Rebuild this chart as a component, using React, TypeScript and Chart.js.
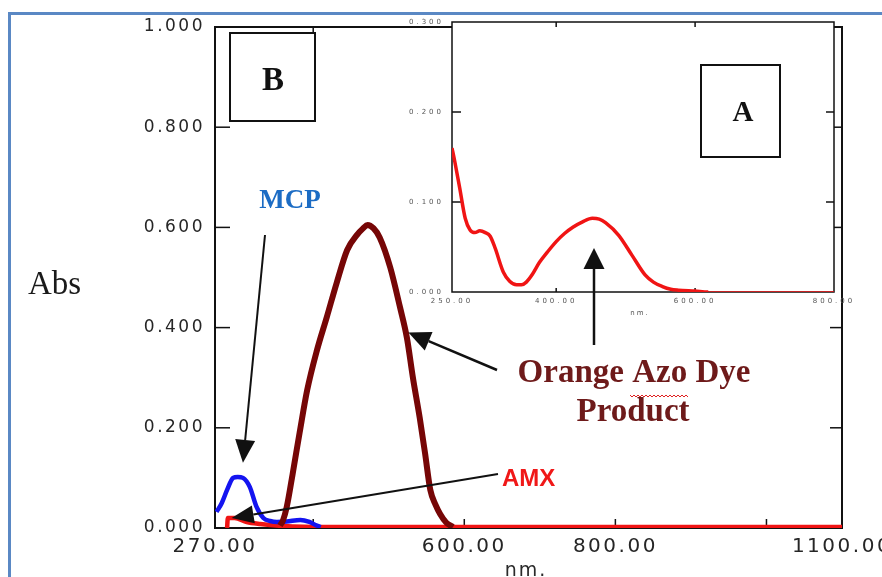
import React, { useEffect, useRef } from 'react';
import { Chart, registerables } from 'chart.js';

Chart.register(...registerables);

// ---------- Main chart data (B) ----------
const azoNm = [356, 360, 365, 373, 382, 392, 405, 418, 431, 445, 458, 466, 472, 480, 488, 502, 515, 524, 532, 541, 548, 555, 562, 568, 576, 585];
const azoAbs = [0.005, 0.015, 0.042, 0.11, 0.19, 0.275, 0.355, 0.421, 0.489, 0.555, 0.585, 0.598, 0.605, 0.598, 0.58, 0.52, 0.44, 0.38, 0.3, 0.22, 0.15, 0.076, 0.046, 0.028, 0.011, 0.002];

const mcpNm = [272, 279, 286, 294, 300, 307, 316, 325, 334, 343, 352, 365, 383, 395, 403, 410];
const mcpAbs = [0.032, 0.05, 0.076, 0.1, 0.102, 0.1, 0.082, 0.042, 0.02, 0.014, 0.012, 0.013, 0.016, 0.012, 0.006, 0.002];

const amxNm = [286, 287, 296, 312, 330, 360, 420, 600, 800, 1100];
const amxAbs = [0.0, 0.02, 0.02, 0.012, 0.008, 0.004, 0.002, 0.002, 0.002, 0.002];

const xTickValues = [270, 400, 600, 800, 1000, 1100];
const xTickLabels = ['270.00', '', '600.00', '800.00', '', '1100.00'];
const yTickValues = [0, 0.2, 0.4, 0.6, 0.8, 1.0];
const yTickLabels = ['0.000', '0.200', '0.400', '0.600', '0.800', '1.000'];

// ---------- Inset data (A) ----------
const insetNm = [250, 254, 261, 269, 276, 283, 290, 298, 305, 312, 324, 333, 343, 350, 357, 366, 376, 388, 400, 412, 424, 438, 452, 462, 471, 490, 509, 528, 540, 553, 565, 576, 600, 619, 650, 700, 750, 800];
const insetAbs = [0.16, 0.145, 0.116, 0.082, 0.069, 0.066, 0.068, 0.066, 0.062, 0.049, 0.022, 0.012, 0.008, 0.008, 0.011, 0.02, 0.033, 0.045, 0.056, 0.065, 0.072, 0.078, 0.082, 0.081, 0.077, 0.063, 0.041, 0.019, 0.011, 0.006, 0.003, 0.002, 0.001, 0.0, 0.0, 0.0, 0.0, 0.0];

const insetXTickValues = [250, 400, 600, 800];
const insetXTickLabels = ['250.00', '400.00', '600.00', '800.00'];
const insetYTickValues = [0, 0.1, 0.2, 0.3];
const insetYTickLabels = ['0.000', '0.100', '0.200', '0.300'];

const toPts = (xs: number[], ys: number[]) => xs.map((x, i) => ({ x, y: ys[i] }));

function arrow(ctx: CanvasRenderingContext2D, x1: number, y1: number, x2: number, y2: number, len: number, w: number, lw: number) {
  const a = Math.atan2(y2 - y1, x2 - x1);
  const bx = x2 - len * Math.cos(a);
  const by = y2 - len * Math.sin(a);
  ctx.beginPath();
  ctx.moveTo(x1, y1);
  ctx.lineTo(bx, by);
  ctx.lineWidth = lw;
  ctx.stroke();
  ctx.beginPath();
  ctx.moveTo(x2, y2);
  ctx.lineTo(bx + (w / 2) * Math.sin(a), by - (w / 2) * Math.cos(a));
  ctx.lineTo(bx - (w / 2) * Math.sin(a), by + (w / 2) * Math.cos(a));
  ctx.closePath();
  ctx.fill();
}

function seg(ctx: CanvasRenderingContext2D, x1: number, y1: number, x2: number, y2: number) {
  ctx.beginPath();
  ctx.moveTo(x1, y1);
  ctx.lineTo(x2, y2);
  ctx.stroke();
}

const mainDecor = {
  id: 'mainDecor',
  beforeDraw(chart: any) {
    chart.ctx.letterSpacing = '2.5px';
  },
  beforeDatasetsDraw(chart: any) {
    const { ctx, chartArea: ca, scales } = chart;
    ctx.save();
    ctx.strokeStyle = '#111';
    ctx.lineWidth = 2;
    ctx.strokeRect(ca.left, ca.top, ca.right - ca.left, ca.bottom - ca.top);
    ctx.lineWidth = 1.5;
    xTickValues.forEach((v) => {
      if (v === 270 || v === 1100) return;
      const px = scales.x.getPixelForValue(v);
      seg(ctx, px, ca.bottom, px, ca.bottom - 9);
      seg(ctx, px, ca.top, px, ca.top + 6);
    });
    yTickValues.forEach((v) => {
      if (v === 0 || v === 1) return;
      const py = scales.y.getPixelForValue(v);
      seg(ctx, ca.left, py, ca.left + 15, py);
      seg(ctx, ca.right, py, ca.right - 12, py);
    });
    ctx.restore();
  },
  afterDraw(chart: any) {
    const { ctx, scales } = chart;
    const X = (v: number) => scales.x.getPixelForValue(v);
    const Y = (v: number) => scales.y.getPixelForValue(v);
    ctx.save();
    ctx.letterSpacing = '0px';
    // y label
    ctx.fillStyle = '#1a1a1a';
    ctx.font = '33px "Liberation Serif", serif';
    ctx.textAlign = 'left';
    ctx.textBaseline = 'alphabetic';
    ctx.fillText('Abs', 28, 294);
    // x title
    ctx.letterSpacing = '2px';
    ctx.font = '19px "DejaVu Sans", sans-serif';
    ctx.fillStyle = '#2a2a2a';
    ctx.textAlign = 'center';
    ctx.fillText('nm.', 526, 576);
    ctx.letterSpacing = '0px';
    // Box B
    ctx.strokeStyle = '#111';
    ctx.lineWidth = 2;
    ctx.strokeRect(230, 33, 85, 88);
    ctx.fillStyle = '#111';
    ctx.font = 'bold 33px "Liberation Serif", serif';
    ctx.textAlign = 'center';
    ctx.fillText('B', 273, 90);
    // MCP
    ctx.fillStyle = '#1c6cc4';
    ctx.font = 'bold 27px "Liberation Serif", serif';
    ctx.fillText('MCP', 290, 208);
    // AMX
    ctx.fillStyle = '#f01818';
    ctx.font = 'bold 24px "Liberation Sans", sans-serif';
    ctx.textAlign = 'left';
    ctx.fillText('AMX', 502, 486);
    // Orange Azo Dye Product
    ctx.fillStyle = '#6e1a1a';
    ctx.font = 'bold 33px "Liberation Serif", serif';
    ctx.textAlign = 'center';
    ctx.fillText('Orange Azo Dye', 634, 382);
    ctx.fillText('Product', 633, 421);
    // squiggle under Azo
    ctx.strokeStyle = '#e02020';
    ctx.lineWidth = 1;
    ctx.beginPath();
    for (let x = 630, k = 0; x <= 688; x += 2, k++) {
      const y = 396 + (k % 2 === 0 ? -1 : 1);
      if (k === 0) ctx.moveTo(x, y); else ctx.lineTo(x, y);
    }
    ctx.stroke();
    // arrows
    ctx.strokeStyle = '#111';
    ctx.fillStyle = '#111';
    arrow(ctx, 265, 235, X(307), Y(0.13), 23, 20, 2);
    arrow(ctx, 498, 474, X(292), Y(0.02), 22, 18, 2);
    arrow(ctx, 497, 370, X(526), Y(0.39), 22, 20, 2.5);
    ctx.restore();
  },
};

const insetDecor = {
  id: 'insetDecor',
  beforeDraw(chart: any) {
    const { ctx, chartArea: ca } = chart;
    ctx.save();
    ctx.fillStyle = '#ffffff';
    ctx.fillRect(ca.left, ca.top, ca.right - ca.left, ca.bottom - ca.top);
    ctx.restore();
    ctx.letterSpacing = '3px';
  },
  beforeDatasetsDraw(chart: any) {
    const { ctx, chartArea: ca, scales } = chart;
    ctx.save();
    ctx.strokeStyle = '#111';
    ctx.lineWidth = 1.5;
    ctx.strokeRect(ca.left, ca.top, ca.right - ca.left, ca.bottom - ca.top);
    insetXTickValues.forEach((v) => {
      if (v === 250 || v === 800) return;
      const px = scales.x.getPixelForValue(v);
      seg(ctx, px, ca.bottom, px, ca.bottom - 4);
      seg(ctx, px, ca.top, px, ca.top + 5);
    });
    insetYTickValues.forEach((v) => {
      if (v === 0 || v === 0.3) return;
      const py = scales.y.getPixelForValue(v);
      seg(ctx, ca.left, py, ca.left + 9, py);
      seg(ctx, ca.right, py, ca.right - 8, py);
    });
    ctx.restore();
  },
  afterDraw(chart: any) {
    const { ctx } = chart;
    ctx.save();
    ctx.letterSpacing = '2px';
    ctx.fillStyle = '#555';
    ctx.font = '7px "DejaVu Sans", sans-serif';
    ctx.textAlign = 'center';
    ctx.textBaseline = 'alphabetic';
    ctx.fillText('nm.', 640, 315);
    ctx.letterSpacing = '0px';
    // Box A
    ctx.strokeStyle = '#111';
    ctx.lineWidth = 2;
    ctx.strokeRect(701, 65, 79, 92);
    ctx.fillStyle = '#111';
    ctx.font = 'bold 29px "Liberation Serif", serif';
    ctx.fillText('A', 743, 121);
    // vertical arrow
    ctx.strokeStyle = '#111';
    ctx.fillStyle = '#111';
    arrow(ctx, 594, 345, 594, 248, 21, 21, 2.5);
    ctx.restore();
  },
};

export default function App() {
  const mainRef = useRef<HTMLCanvasElement>(null);
  const insetRef = useRef<HTMLCanvasElement>(null);

  useEffect(() => {
    const mainChart = new Chart(mainRef.current as HTMLCanvasElement, {
      type: 'line',
      data: {
        datasets: [
          {
            label: 'Orange Azo Dye Product',
            data: toPts(azoNm, azoAbs),
            borderColor: '#760606',
            borderWidth: 6,
            pointRadius: 0,
            cubicInterpolationMode: 'monotone',
          },
          {
            label: 'MCP',
            data: toPts(mcpNm, mcpAbs),
            borderColor: '#1414f0',
            borderWidth: 4.5,
            pointRadius: 0,
            cubicInterpolationMode: 'monotone',
          },
          {
            label: 'AMX',
            data: toPts(amxNm, amxAbs),
            borderColor: '#f01414',
            borderWidth: 4.5,
            pointRadius: 0,
            cubicInterpolationMode: 'monotone',
          },
        ],
      },
      options: {
        animation: false,
        responsive: false,
        maintainAspectRatio: false,
        events: [],
        layout: { padding: { left: 0, top: 27, right: 40, bottom: 0 } },
        plugins: { legend: { display: false }, tooltip: { enabled: false } },
        scales: {
          x: {
            type: 'linear',
            min: 270,
            max: 1100,
            border: { display: false },
            grid: { display: false, drawTicks: false },
            afterBuildTicks: (s: any) => {
              s.ticks = xTickValues.map((v) => ({ value: v }));
            },
            afterFit: (s: any) => {
              s.height = 49;
              s.paddingLeft = 0;
              s.paddingRight = 0;
            },
            ticks: {
              autoSkip: false,
              maxRotation: 0,
              minRotation: 0,
              padding: 7,
              color: '#262626',
              font: { family: '"DejaVu Sans", sans-serif', size: 20 },
              callback: (_v: any, i: number) => xTickLabels[i],
            },
          },
          y: {
            type: 'linear',
            min: 0,
            max: 1,
            border: { display: false },
            grid: { display: false, drawTicks: false },
            afterBuildTicks: (s: any) => {
              s.ticks = yTickValues.map((v) => ({ value: v }));
            },
            afterFit: (s: any) => {
              s.width = 215;
              s.paddingTop = 0;
              s.paddingBottom = 0;
            },
            ticks: {
              padding: 10,
              color: '#262626',
              font: { family: '"DejaVu Sans", sans-serif', size: 17 },
              callback: (_v: any, i: number) => yTickLabels[i],
            },
          },
        },
      },
      plugins: [mainDecor],
    } as any);

    const insetChart = new Chart(insetRef.current as HTMLCanvasElement, {
      type: 'line',
      data: {
        datasets: [
          {
            label: 'Orange Azo Dye (A)',
            data: toPts(insetNm, insetAbs),
            borderColor: '#f01414',
            borderWidth: 3.5,
            pointRadius: 0,
            cubicInterpolationMode: 'monotone',
            segment: {
              borderWidth: (c: any) => (c.p0.parsed.x >= 610 ? 1.5 : 3.5),
            },
          },
        ],
      },
      options: {
        animation: false,
        responsive: false,
        maintainAspectRatio: false,
        events: [],
        layout: { padding: { left: 395, top: 22, right: 48, bottom: 0 } },
        plugins: { legend: { display: false }, tooltip: { enabled: false } },
        scales: {
          x: {
            type: 'linear',
            min: 250,
            max: 800,
            border: { display: false },
            grid: { display: false, drawTicks: false },
            afterBuildTicks: (s: any) => {
              s.ticks = insetXTickValues.map((v) => ({ value: v }));
            },
            afterFit: (s: any) => {
              s.height = 285;
              s.paddingLeft = 0;
              s.paddingRight = 0;
            },
            ticks: {
              autoSkip: false,
              maxRotation: 0,
              minRotation: 0,
              padding: 5,
              color: '#555',
              font: { family: '"DejaVu Sans", sans-serif', size: 7 },
              callback: (_v: any, i: number) => insetXTickLabels[i],
            },
          },
          y: {
            type: 'linear',
            min: 0,
            max: 0.3,
            border: { display: false },
            grid: { display: false, drawTicks: false },
            afterBuildTicks: (s: any) => {
              s.ticks = insetYTickValues.map((v) => ({ value: v }));
            },
            afterFit: (s: any) => {
              s.width = 57;
              s.paddingTop = 0;
              s.paddingBottom = 0;
            },
            ticks: {
              padding: 8,
              color: '#555',
              font: { family: '"DejaVu Sans", sans-serif', size: 7 },
              callback: (_v: any, i: number) => insetYTickLabels[i],
            },
          },
        },
      },
      plugins: [insetDecor],
    } as any);

    return () => {
      mainChart.destroy();
      insetChart.destroy();
    };
  }, []);

  return (
    <div style={{ position: 'fixed', left: 0, top: 0, width: 882, height: 577, overflow: 'hidden', background: '#fff' }}>
      <div
        style={{
          position: 'absolute',
          left: 8,
          top: 12,
          width: 1000,
          height: 1000,
          borderTop: '3px solid #5a88c4',
          borderLeft: '3px solid #5a88c4',
        }}
      />
      <canvas ref={mainRef} width={882} height={577} style={{ position: 'absolute', left: 0, top: 0 }} />
      <canvas ref={insetRef} width={882} height={577} style={{ position: 'absolute', left: 0, top: 0 }} />
    </div>
  );
}
